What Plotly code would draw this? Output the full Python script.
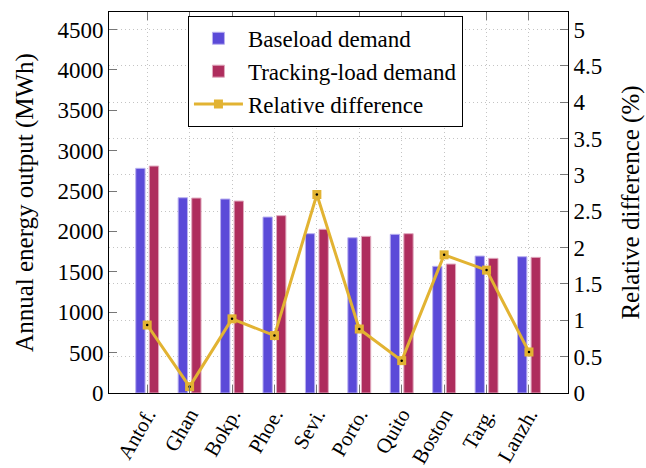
import plotly.graph_objects as go

categories = ["Antof.", "Ghan", "Bokp.", "Phoe.", "Sevi.", "Porto.", "Quito", "Boston", "Targ.", "Lanzh."]
baseload = [2781, 2417, 2401, 2178, 1972, 1922, 1964, 1568, 1695, 1687]
tracking = [2809, 2413, 2376, 2195, 2026, 1939, 1972, 1596, 1667, 1679]
rel_diff = [0.935, 0.087, 1.02, 0.79, 2.73, 0.88, 0.445, 1.90, 1.69, 0.564]

left_ticks = [0, 500, 1000, 1500, 2000, 2500, 3000, 3500, 4000, 4500]
right_ticks = [0, 0.5, 1, 1.5, 2, 2.5, 3, 3.5, 4, 4.5, 5]

FONT = "Liberation Serif, serif"
BLUE = "#5B4AD8"
RED = "#AE2D5D"
GOLD = "#E2B332"
GRID = "#c4c4c4"

fig = go.Figure()
fig.add_trace(go.Bar(
    x=categories, y=baseload, name="Baseload demand",
    marker=dict(color=BLUE, line=dict(color="#B9B0F0", width=1)),
    width=0.22, offset=-0.27, yaxis="y",
))
fig.add_trace(go.Bar(
    x=categories, y=tracking, name="Tracking-load demand",
    marker=dict(color=RED, line=dict(color="#E0A9BE", width=1)),
    width=0.22, offset=0.05, yaxis="y",
))
fig.add_trace(go.Scatter(
    x=categories, y=rel_diff, name="Relative difference", yaxis="y2",
    mode="lines+markers",
    line=dict(color=GOLD, width=3),
    marker=dict(symbol="square", size=9, color=GOLD),
))
fig.add_trace(go.Scatter(
    x=categories, y=rel_diff, yaxis="y2", mode="markers", showlegend=False,
    marker=dict(symbol="circle", size=2.5, color="black"), hoverinfo="skip",
))

fig.update_layout(
    width=646, height=468,
    margin=dict(l=109, r=78, t=12, b=75),
    paper_bgcolor="white", plot_bgcolor="white",
    font=dict(family=FONT, size=24, color="black"),
    barmode="overlay",
    showlegend=True,
    legend=dict(
        x=0.172, y=0.99, xanchor="left", yanchor="top",
        bordercolor="black", borderwidth=1, bgcolor="white",
        font=dict(family=FONT, size=23), tracegroupgap=0, itemwidth=49,
    ),
    xaxis=dict(
        range=[-0.9, 9.92], automargin=False,
        tickangle=-60, ticks="inside", ticklen=8, tickcolor="#777",
        showline=True, linecolor="black", linewidth=1, mirror="ticks",
        showgrid=True, gridcolor=GRID, griddash="1px,3px", gridwidth=1,
        tickfont=dict(family=FONT, size=21),
    ),
    yaxis=dict(
        range=[0, 4716], tickvals=left_ticks, automargin=False,
        ticks="inside", ticklen=8, tickcolor="#777",
        showline=True, linecolor="black", linewidth=1,
        showgrid=False, zeroline=False,
        title=dict(text="Annual energy output (MWh)", font=dict(family=FONT, size=25), standoff=16),
        tickfont=dict(family=FONT, size=23),
    ),
    yaxis2=dict(
        range=[0, 5.24], tickvals=right_ticks, automargin=False,
        overlaying="y", side="right",
        ticks="inside", ticklen=8, tickcolor="#777",
        showline=True, linecolor="black", linewidth=1,
        showgrid=True, gridcolor=GRID, griddash="1px,3px", gridwidth=1,
        zeroline=False,
        title=dict(text="Relative difference (%)", font=dict(family=FONT, size=25), standoff=20),
        tickfont=dict(family=FONT, size=23),
    ),
)

fig.write_html("out.html", config={"displayModeBar": False},
               post_script="document.body.style.margin='0';")
